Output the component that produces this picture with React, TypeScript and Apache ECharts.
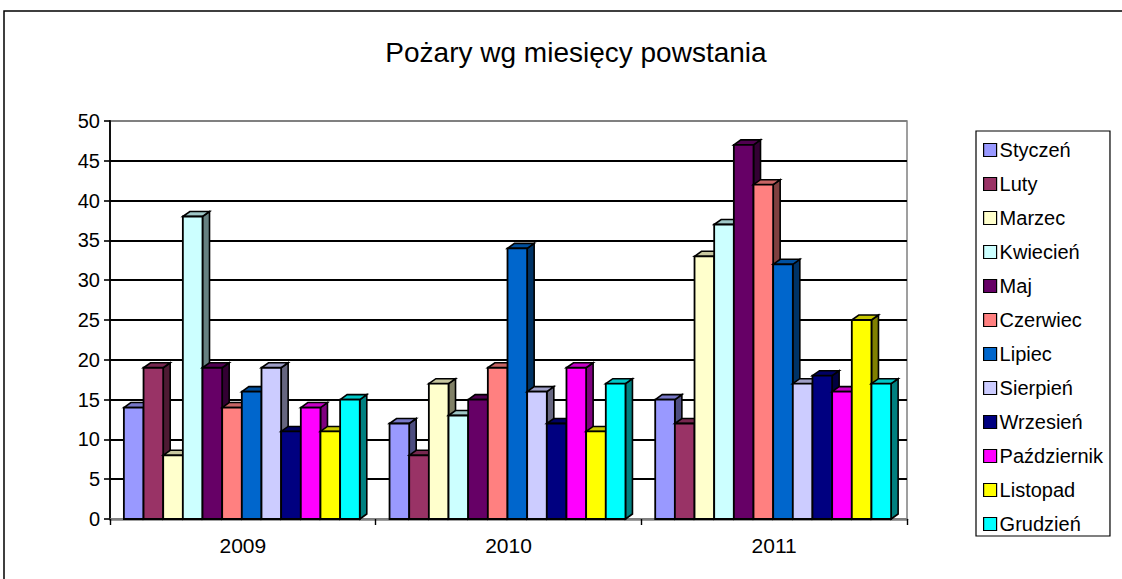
import React, { useEffect, useRef } from "react";
import * as echarts from "echarts";

const years = ["2009", "2010", "2011"];
const months = ["Styczeń", "Luty", "Marzec", "Kwiecień", "Maj", "Czerwiec", "Lipiec", "Sierpień", "Wrzesień", "Październik", "Listopad", "Grudzień"];
const values2009 = [14, 19, 8, 38, 19, 14, 16, 19, 11, 14, 11, 15];
const values2010 = [12, 8, 17, 13, 15, 19, 34, 16, 12, 19, 11, 17];
const values2011 = [15, 12, 33, 37, 47, 42, 32, 17, 18, 16, 25, 17];
const colors = ["#9999FF", "#993366", "#FFFFCC", "#CCFFFF", "#660066", "#FF8080", "#0066CC", "#CCCCFF", "#000080", "#FF00FF", "#FFFF00", "#00FFFF"];
const yTicks = [0, 50, 5];

function shade(hex: string, f: number) {
  const n = parseInt(hex.slice(1), 16);
  const r = Math.round(((n >> 16) & 255) * f);
  const g = Math.round(((n >> 8) & 255) * f);
  const b = Math.round((n & 255) * f);
  return `rgb(${r},${g},${b})`;
}

export default function App() {
  const ref = useRef<HTMLDivElement>(null);
  useEffect(() => {
    const chart = echarts.init(ref.current!, null, { renderer: "svg" });
    const renderBar = (params: any, api: any) => {
      const j = api.value(0);
      const v = api.value(1);
      const top = api.coord([j, v]);
      const base = api.coord([j, 0]);
      const band = api.size([1, 0])[0];
      const bw = band * 0.074;
      const x0 = top[0] - 6 * bw - 1 + params.seriesIndex * bw;
      const x1 = x0 + bw;
      const yT = top[1];
      const yB = base[1];
      const dx = 7, dy = 5;
      const c = colors[params.seriesIndex];
      return {
        type: "group",
        children: [
          { type: "polygon", shape: { points: [[x1, yB], [x1 + dx, yB - dy], [x1 + dx, yT - dy], [x1, yT]] }, style: { fill: shade(c, 0.5), stroke: "#000", lineWidth: 1.6 } },
          { type: "polygon", shape: { points: [[x0, yT], [x0 + dx, yT - dy], [x1 + dx, yT - dy], [x1, yT]] }, style: { fill: shade(c, 0.78), stroke: "#000", lineWidth: 1.6 } },
          { type: "rect", shape: { x: x0, y: yT, width: bw, height: yB - yT }, style: { fill: c, stroke: "#000", lineWidth: 1.8 } },
        ],
      };
    };
    const series = months.map((m, i) => ({
      type: "custom",
      name: m,
      z: 3 + i,
      renderItem: renderBar,
      itemStyle: { color: colors[i], borderColor: "#000", borderWidth: 1 },
      encode: { x: 0, y: 1 },
      data: years.map((_, j) => [j, [values2009, values2010, values2011][j][i]]),
    }));
    const splitColors = ["#808080", "#000", "#000", "#000", "#000", "#000", "#000", "#000", "#000", "#000", "#808080"];
    chart.setOption({
      animation: false,
      backgroundColor: "#fff",
      title: {
        text: "Pożary wg miesięcy powstania",
        left: 571,
        textAlign: "center",
        top: 33,
        textStyle: { fontFamily: "Liberation Sans, Arial", fontWeight: "normal", fontSize: 28, color: "#000" },
      },
      grid: { left: 110, right: 215, top: 121, bottom: 60, show: true, borderColor: "#808080", borderWidth: 1.5, backgroundColor: "transparent" },
      xAxis: {
        type: "category",
        data: years,
        axisLine: { show: true, lineStyle: { color: "#808080", width: 2.5 } },
        axisTick: { show: true, length: 6, lineStyle: { color: "#000", width: 1.4 } },
        axisLabel: { color: "#000", fontSize: 21, fontFamily: "Liberation Sans, Arial", margin: 16 },
      },
      yAxis: {
        type: "value",
        min: yTicks[0],
        max: yTicks[1],
        interval: yTicks[2],
        axisLine: { show: true, lineStyle: { color: "#000", width: 1.8 } },
        axisTick: { show: true, length: 6, lineStyle: { color: "#000", width: 1.6 } },
        axisLabel: { color: "#000", fontSize: 20, fontFamily: "Liberation Sans, Arial", margin: 10 },
        splitLine: { show: true, lineStyle: { color: splitColors, width: 1.8 } },
      },
      legend: {
        orient: "vertical",
        left: 976,
        top: 131,
        padding: [9, 7, 2, 7],
        borderColor: "#000",
        borderWidth: 1.2,
        itemGap: 14,
        itemWidth: 13,
        itemHeight: 13,
        icon: "rect",
        itemStyle: { borderColor: "#000", borderWidth: 1.2 },
        textStyle: { fontSize: 20, lineHeight: 20, color: "#000", fontFamily: "Liberation Sans, Arial", padding: [0, 0, 0, -2] },
        data: months,
      },
      graphic: [
        { type: "rect", shape: { x: 4, y: 11, width: 1130, height: 600 }, style: { fill: "none", stroke: "#000", lineWidth: 1.5 }, silent: true, z: -1 },
      ],
      series,
    });
    return () => chart.dispose();
  }, []);
  return <div ref={ref} style={{ position: "fixed", left: 0, top: 0, width: 1122, height: 579 }} />;
}
